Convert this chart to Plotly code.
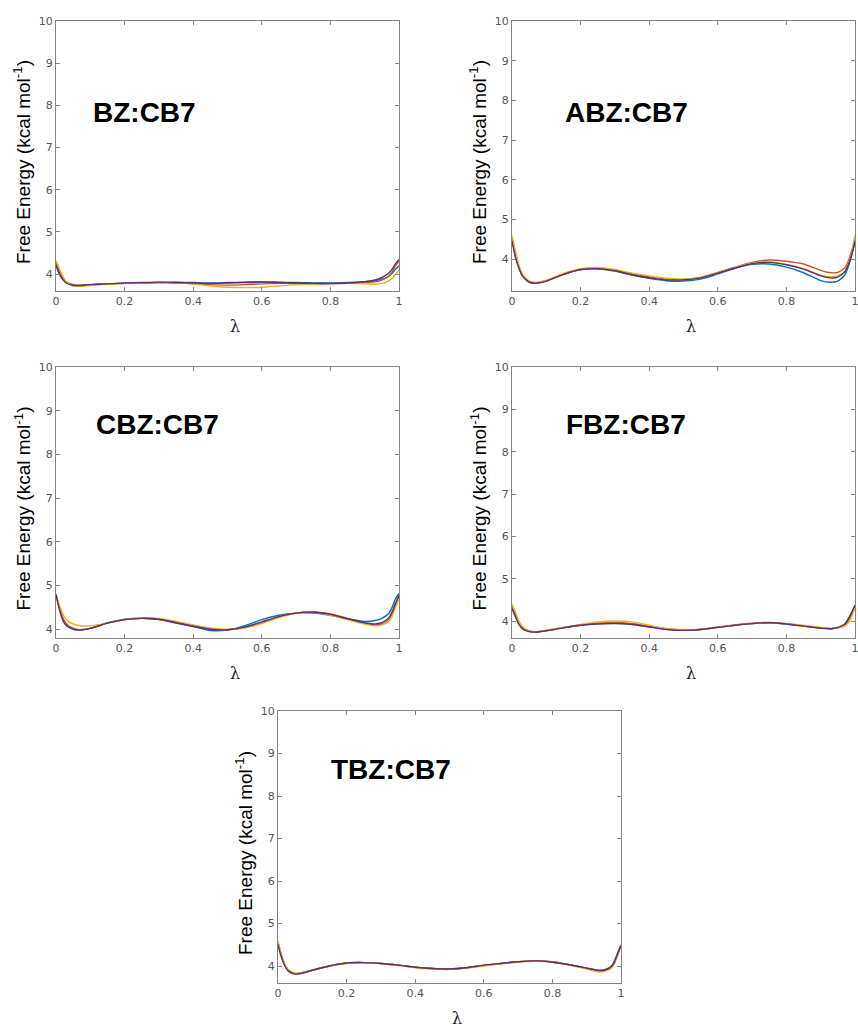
import plotly.graph_objects as go

W, H = 858, 1028

# ---------------- data ----------------
LAM = [0, 0.01, 0.02, 0.03, 0.05, 0.07, 0.1, 0.15, 0.2, 0.25, 0.3, 0.35, 0.4, 0.45,
       0.5, 0.55, 0.6, 0.65, 0.7, 0.75, 0.8, 0.85, 0.9, 0.93, 0.95, 0.97, 0.98, 0.99, 1.0]

PANEL_NAMES = ["BZ:CB7", "ABZ:CB7", "CBZ:CB7", "FBZ:CB7", "TBZ:CB7"]
Y_MIN = [3.6, 3.2, 3.8, 3.6, 3.6]
Y_MAX = 10

BZ_blue = [4.25, 4.05, 3.9, 3.8, 3.74, 3.73, 3.75, 3.77, 3.78, 3.79, 3.8, 3.81, 3.8, 3.79, 3.8, 3.81, 3.82, 3.81, 3.8, 3.79, 3.79, 3.8, 3.82, 3.84, 3.88, 3.95, 4.02, 4.12, 4.2]
BZ_red = [4.3, 4.1, 3.92, 3.82, 3.75, 3.73, 3.75, 3.77, 3.78, 3.79, 3.8, 3.79, 3.77, 3.75, 3.74, 3.75, 3.77, 3.78, 3.78, 3.77, 3.77, 3.78, 3.8, 3.82, 3.86, 3.95, 4.05, 4.2, 4.3]
BZ_yellow = [4.32, 4.12, 3.95, 3.82, 3.72, 3.71, 3.73, 3.76, 3.78, 3.79, 3.81, 3.8, 3.77, 3.72, 3.69, 3.68, 3.69, 3.72, 3.75, 3.76, 3.78, 3.78, 3.77, 3.76, 3.78, 3.84, 3.9, 4.0, 4.1]
BZ_purple = [4.2, 4.0, 3.87, 3.79, 3.73, 3.73, 3.75, 3.77, 3.79, 3.8, 3.81, 3.8, 3.79, 3.78, 3.79, 3.8, 3.81, 3.8, 3.79, 3.78, 3.78, 3.79, 3.82, 3.86, 3.92, 4.02, 4.12, 4.25, 4.35]

ABZ_blue = [4.5, 4.1, 3.8, 3.6, 3.43, 3.4, 3.45, 3.62, 3.74, 3.76, 3.7, 3.6, 3.52, 3.46, 3.45, 3.5, 3.63, 3.77, 3.87, 3.88, 3.8, 3.66, 3.46, 3.42, 3.45, 3.6, 3.8, 4.1, 4.45]
ABZ_red = [4.55, 4.15, 3.82, 3.62, 3.44, 3.41, 3.46, 3.62, 3.74, 3.77, 3.72, 3.63, 3.56, 3.5, 3.49, 3.54, 3.67, 3.8, 3.92, 3.98, 3.95, 3.88, 3.72, 3.66, 3.67, 3.78, 3.95, 4.2, 4.55]
ABZ_yellow = [4.6, 4.2, 3.85, 3.63, 3.45, 3.41, 3.47, 3.64, 3.76, 3.79, 3.74, 3.65, 3.58, 3.52, 3.5, 3.54, 3.66, 3.79, 3.9, 3.93, 3.87, 3.76, 3.6, 3.56, 3.58, 3.7, 3.88, 4.15, 4.6]
ABZ_purple = [4.45, 4.05, 3.78, 3.58, 3.42, 3.4, 3.45, 3.62, 3.74, 3.76, 3.71, 3.61, 3.53, 3.48, 3.48, 3.53, 3.65, 3.78, 3.89, 3.92, 3.86, 3.75, 3.58, 3.53, 3.55, 3.68, 3.85, 4.1, 4.45]

CBZ_blue = [4.8, 4.5, 4.25, 4.12, 4.02, 3.99, 4.02, 4.15, 4.23, 4.25, 4.22, 4.14, 4.06, 3.97, 3.98, 4.08, 4.22, 4.32, 4.37, 4.37, 4.32, 4.24, 4.18, 4.2, 4.25, 4.36, 4.5, 4.7, 4.82]
CBZ_red = [4.8, 4.5, 4.25, 4.12, 4.02, 3.99, 4.02, 4.14, 4.22, 4.25, 4.23, 4.16, 4.08, 4.01, 3.99, 4.04, 4.15, 4.28, 4.37, 4.4, 4.35, 4.25, 4.14, 4.1, 4.12, 4.22, 4.35, 4.55, 4.75]
CBZ_yellow = [4.75, 4.55, 4.35, 4.22, 4.12, 4.08, 4.08, 4.14, 4.22, 4.26, 4.25, 4.18, 4.1, 4.03, 4.0, 4.03, 4.13, 4.27, 4.36, 4.38, 4.32, 4.22, 4.12, 4.08, 4.1, 4.18, 4.3, 4.5, 4.7]
CBZ_purple = [4.78, 4.45, 4.2, 4.08, 4.0, 3.98, 4.02, 4.14, 4.22, 4.25, 4.23, 4.15, 4.07, 4.0, 3.99, 4.05, 4.17, 4.29, 4.37, 4.39, 4.34, 4.24, 4.15, 4.12, 4.15, 4.26, 4.4, 4.6, 4.78]

FBZ_blue = [4.35, 4.15, 3.95, 3.84, 3.76, 3.74, 3.77, 3.84, 3.9, 3.94, 3.95, 3.93, 3.87, 3.81, 3.78, 3.8, 3.85, 3.9, 3.94, 3.96, 3.93, 3.88, 3.84, 3.82, 3.84, 3.92, 4.02, 4.18, 4.35]
FBZ_red = [4.38, 4.18, 3.98, 3.85, 3.76, 3.75, 3.78, 3.85, 3.91, 3.95, 3.97, 3.94, 3.88, 3.82, 3.79, 3.8, 3.86, 3.91, 3.95, 3.97, 3.94, 3.89, 3.84, 3.82, 3.84, 3.9, 3.98, 4.15, 4.35]
FBZ_yellow = [4.4, 4.2, 4.0, 3.87, 3.77, 3.75, 3.78, 3.85, 3.92, 3.98, 4.0, 3.98, 3.9, 3.82, 3.79, 3.8, 3.85, 3.9, 3.94, 3.96, 3.94, 3.9, 3.85, 3.83, 3.84, 3.88, 3.95, 4.1, 4.3]
FBZ_purple = [4.3, 4.1, 3.92, 3.82, 3.75, 3.74, 3.77, 3.84, 3.9, 3.93, 3.94, 3.92, 3.86, 3.8, 3.78, 3.8, 3.85, 3.9, 3.94, 3.96, 3.93, 3.88, 3.83, 3.82, 3.85, 3.93, 4.05, 4.2, 4.38]

TBZ_blue = [4.55, 4.25, 4.02, 3.9, 3.82, 3.84, 3.9, 4.0, 4.07, 4.08, 4.06, 4.02, 3.97, 3.94, 3.93, 3.96, 4.02, 4.06, 4.1, 4.12, 4.1, 4.03, 3.95, 3.9, 3.91, 3.98, 4.1, 4.3, 4.5]
TBZ_red = [4.55, 4.25, 4.02, 3.9, 3.82, 3.84, 3.9, 4.0, 4.07, 4.08, 4.06, 4.02, 3.97, 3.94, 3.93, 3.96, 4.01, 4.06, 4.1, 4.12, 4.1, 4.03, 3.94, 3.88, 3.88, 3.95, 4.05, 4.25, 4.5]
TBZ_yellow = [4.58, 4.28, 4.05, 3.92, 3.83, 3.84, 3.9, 4.0, 4.06, 4.08, 4.06, 4.01, 3.96, 3.93, 3.92, 3.95, 4.0, 4.05, 4.09, 4.11, 4.09, 4.02, 3.93, 3.87, 3.87, 3.94, 4.05, 4.25, 4.5]
TBZ_purple = [4.5, 4.2, 4.0, 3.88, 3.81, 3.83, 3.9, 4.0, 4.07, 4.08, 4.06, 4.02, 3.97, 3.94, 3.93, 3.96, 4.02, 4.06, 4.1, 4.12, 4.09, 4.03, 3.95, 3.9, 3.9, 3.97, 4.08, 4.28, 4.48]

SERIES = [
    [BZ_blue, BZ_red, BZ_yellow, BZ_purple],
    [ABZ_blue, ABZ_red, ABZ_yellow, ABZ_purple],
    [CBZ_blue, CBZ_red, CBZ_yellow, CBZ_purple],
    [FBZ_blue, FBZ_red, FBZ_yellow, FBZ_purple],
    [TBZ_blue, TBZ_red, TBZ_yellow, TBZ_purple],
]

X_TICKS = [0, 0.2, 0.4, 0.6, 0.8, 1]
X_TICK_TEXT = ["0", "0.2", "0.4", "0.6", "0.8", "1"]
Y_TICKS = [4, 5, 6, 7, 8, 9, 10]

# ---------------- style / layout ----------------
COLORS = ["#0072BD", "#C8552A", "#EDB120", "#5E2F6E"]
# plot boxes in window pixels: (left, right, top, bottom)
BOXES = [(56, 399, 21, 291), (512, 855, 21, 291),
         (56, 399, 367, 638), (512, 855, 367, 638),
         (278, 621, 711, 983)]
LABEL_POS = [(91, 112), (563, 112), (94, 424), (564, 424), (329, 769)]

AXC = "#858585"


def px(x):
    return x / W


def py(y):
    return 1 - y / H


fig = go.Figure()
annotations = []
layout = dict(width=W, height=H, margin=dict(l=0, r=0, t=0, b=0, autoexpand=False),
              paper_bgcolor="white", plot_bgcolor="white", showlegend=False)

for i, (name, series) in enumerate(zip(PANEL_NAMES, SERIES)):
    k = i + 1
    xa = "x" if k == 1 else f"x{k}"
    ya = "y" if k == 1 else f"y{k}"
    for s, c in zip(series, COLORS):
        fig.add_trace(go.Scatter(x=LAM, y=s, mode="lines", xaxis=xa, yaxis=ya,
                                 line=dict(color=c, width=1.4, shape="spline", smoothing=0.6),
                                 hoverinfo="skip"))
    l, r, t, b = BOXES[i]
    common = dict(showgrid=False, zeroline=False, showline=True, linecolor=AXC, linewidth=1,
                  mirror="ticks", ticks="inside", ticklen=4, tickcolor=AXC, tickwidth=1,
                  automargin=False, ticklabeloverflow="allow",
                  tickfont=dict(family="DejaVu Sans", size=11, color="#555555"))
    layout["xaxis" if k == 1 else f"xaxis{k}"] = dict(
        common, domain=[px(l), px(r)], range=[0, 1], anchor=ya,
        tickvals=X_TICKS, ticktext=X_TICK_TEXT)
    layout["yaxis" if k == 1 else f"yaxis{k}"] = dict(
        common, domain=[py(b), py(t)], range=[Y_MIN[i], Y_MAX], anchor=xa,
        tickvals=Y_TICKS)
    # panel label
    lx, ly = LABEL_POS[i]
    annotations.append(dict(text=f"<b>{name}</b>", x=px(lx), y=py(ly), xref="paper", yref="paper",
                            xanchor="left", yanchor="middle", showarrow=False,
                            font=dict(family="Liberation Sans", size=28, color="black")))
    # y title
    annotations.append(dict(text="Free Energy (kcal mol<sup>-1</sup>)", x=px(l - 34), y=py((t + b) / 2 + 6),
                            xref="paper", yref="paper", xanchor="center", yanchor="middle",
                            textangle=-90, showarrow=False,
                            font=dict(family="Liberation Sans", size=19, color="black")))
    # x title
    annotations.append(dict(text="λ", x=px((l + r) / 2 + 7), y=py(b + 35), xref="paper", yref="paper",
                            xanchor="center", yanchor="middle", showarrow=False,
                            font=dict(family="DejaVu Serif", size=16, color="#222222")))

layout["annotations"] = annotations
fig.update_layout(**layout)
fig.write_html("out.html", config={"displayModeBar": False},
               post_script="document.body.style.margin='0px';document.body.style.overflow='hidden';")
